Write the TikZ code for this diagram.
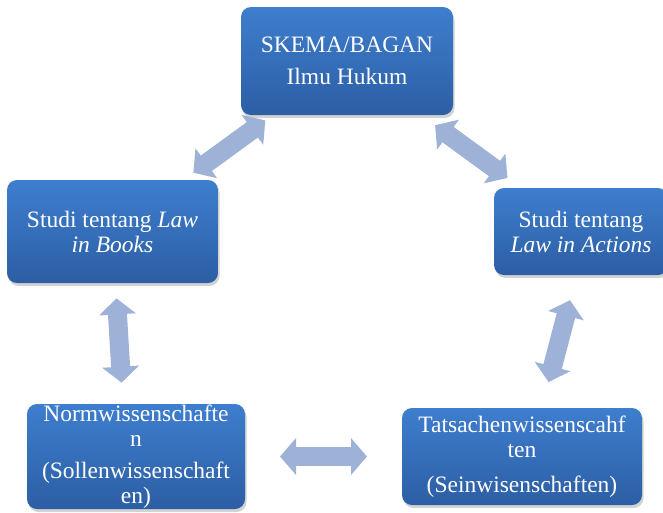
\documentclass[tikz,border=0pt]{standalone}
\usepackage{fontspec}
\setmainfont{Liberation Serif}[ItalicFont={Liberation Serif Italic},BoldFont={Liberation Serif Bold}]
\usetikzlibrary{arrows.meta,shadows}

\definecolor{biruatas}{RGB}{62,126,206}
\definecolor{birubawah}{RGB}{44,94,164}
\definecolor{panah}{RGB}{158,177,214}

\tikzset{
  kotak/.style={rounded corners=10pt, top color=biruatas, bottom color=birubawah,
    text=white, align=center, inner sep=0pt, font=\fontsize{23.5}{25}\selectfont,
    drop shadow={opacity=0.35, shadow xshift=1.5pt, shadow yshift=-3pt}},
  panahdua/.style={line width=19pt, draw=panah,
    {Triangle[width=36pt,length=16pt]}-{Triangle[width=36pt,length=16pt]}}
}

\begin{document}
\begin{tikzpicture}[x=1pt,y=-1pt]
  \useasboundingbox (0,0) rectangle (663,512);
              % kotak-kotak
              \node[kotak, minimum width=212pt, minimum height=108pt] (atas) at (347,61)
                   {SKEMA/BAGAN\\[7pt]Ilmu Hukum};
              \node[kotak, minimum width=211pt, minimum height=103pt] (kiri) at (112.5,231.5)
                   {Studi tentang \textit{Law}\\\textit{in Books}};
              \node[kotak, minimum width=174pt, minimum height=87pt] (kanan) at (581,231.5)
                   {Studi tentang\\\textit{Law in Actions}};
              \node[kotak, minimum width=218pt, minimum height=105pt] (kiribawah) at (136,456.5)
                   {Normwissenschafte\\n\\[7pt](Sollenwissenschaft\\en)};
              \node[kotak, minimum width=240pt, minimum height=97pt] (kananbawah) at (522,456.5)
                   {Tatsachenwissenscahf\\ten\\[10pt](Seinwisenschaften)};
              % panah
              \draw[panahdua, shorten <=100pt, shorten >=101pt] (kiri.center) -- (atas.center);
              \draw[panahdua, shorten <=109pt, shorten >=91pt] (atas.center) -- (kanan.center);
              \draw[panahdua, shorten <=67pt, shorten >=74pt] (kiri.center) -- ([xshift=-10pt]kiribawah.center);
              \draw[panahdua, shorten <=144pt, shorten >=155pt] (kiribawah.center) -- (kananbawah.center);
              \draw[panahdua, shorten <=71pt, shorten >=77pt] ([xshift=7pt]kanan.center) -- ([xshift=7pt]kananbawah.center);
\end{tikzpicture}
\end{document}
